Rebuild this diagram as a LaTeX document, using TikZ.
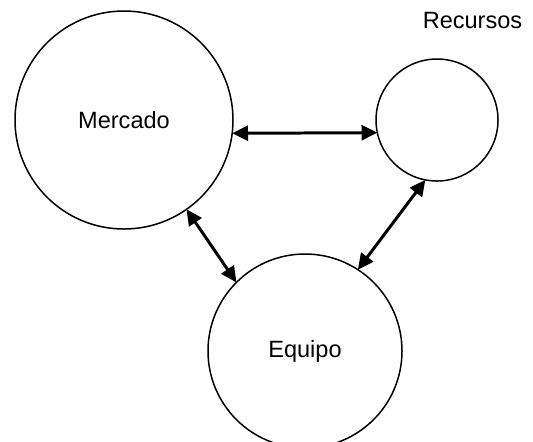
\documentclass[tikz,border=0pt]{standalone}
\usepackage{fontspec}
\setmainfont{Liberation Sans}
\usetikzlibrary{arrows.meta}

\tikzset{
  bola/.style={draw, circle, line width=0.85pt, inner sep=0pt, outer sep=0pt},
  enlace/.style={line width=1.7pt, {Triangle[length=9pt,width=8.5pt]}-{Triangle[length=9pt,width=8.5pt]}}
}

\begin{document}
\begin{tikzpicture}[font=\fontsize{13.4}{16}\selectfont]
                \useasboundingbox (0,0) rectangle (10.66,-8.82);

                \node[bola, minimum size=4.36cm] (merc) at (2.48,-2.40) {Mercado};
                \node[bola, minimum size=2.44cm] (recu) at (8.74,-2.40) {};
                \node (recutxt) at (9.45,-0.42) {Recursos};
                \node[bola, minimum size=3.88cm] (equi) at (6.10,-7.02) {Equipo};

                \draw[enlace] (merc.-7) -- (recu.-168);
                \draw[enlace] (merc.-55) -- (equi.135);
                \draw[enlace] (recu.259) -- (equi.57);
            \end{tikzpicture}
\end{document}
